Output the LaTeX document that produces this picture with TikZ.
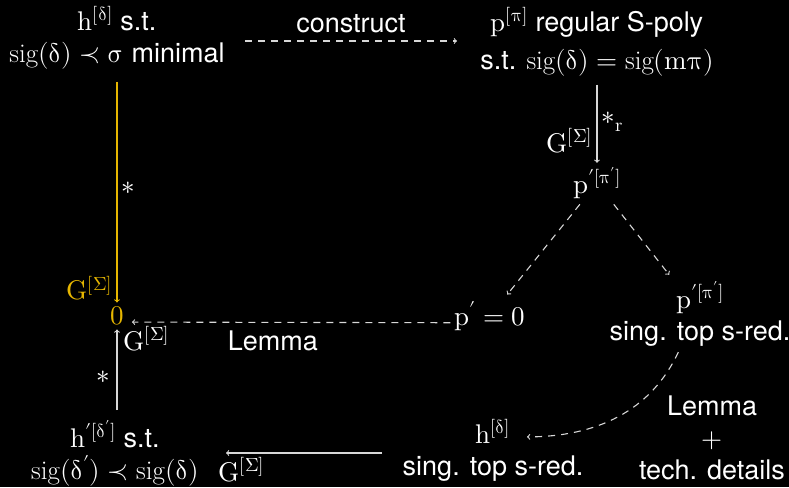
\documentclass[tikz,border=0pt]{standalone}
\usepackage{fontspec}
\usepackage[math-style=upright]{unicode-math}
\setmainfont{TeX Gyre Heros}
\setmathfont{Latin Modern Math}
\setmathrm{Latin Modern Roman}
\definecolor{gold}{RGB}{230,182,0}
\definecolor{linegray}{RGB}{215,215,215}
\newcommand{\sg}{\operatorname{sig}}
\begin{document}
\begin{tikzpicture}[x=1pt,y=-1pt,
  font=\fontsize{27}{32}\selectfont,
  every node/.style={text=white, inner sep=2pt},
  txt/.style={align=center},
  conn/.style={draw=linegray, line width=1.1pt, ->},
  dconn/.style={conn, dash pattern=on 7pt off 6pt},
  gconn/.style={draw=gold, line width=1.1pt, ->},
  lbl/.style={inner sep=3pt}]
\fill[black] (0,0) rectangle (789,487);
\useasboundingbox (0,0) rectangle (789,487);

\node[txt] (n1) at (117,38) {$h^{[\delta]}$ s.t.\\ $\sg(\delta)\prec\sigma$ minimal};
\node[txt] (n2) at (597,42) {$p^{[\pi]}$ regular S-poly\\[6pt] s.t. $\sg(\delta)=\sg(m\pi)$};
\node (n3) at (597,183) {$p'^{[\pi']}$};
\node (n4) at (490,316) {$p'=0$};
\node[txt] (n5) at (700,314) {$p'^{[\pi']}$\\ sing. top s-red.};
\node (zero) at (117,316) {\textcolor{gold}{$0$}};
\node[txt] (n6) at (115,453) {$h'^{[\delta']}$ s.t.\\ $\sg(\delta')\prec\sg(\delta)$};
\node[txt] (n7) at (493,450) {$h^{[\delta]}$\\ sing. top s-red.};
\node[txt] (lt) at (712,438) {Lemma\\ $+$\\ tech. details};

\coordinate (c1s) at (245,41);
\coordinate (c1e) at (457,41);
\draw[dconn] (c1s) -- node[above=6pt] {construct} (c1e);

\draw[conn, shorten <=6pt, shorten >=2pt] (n2) -- node[left=2pt, pos=0.72] {$G^{[\Sigma]}$} node[right=2pt, pos=0.5] {$\ast_{r}$} (n3);
\draw[dconn, shorten <=4pt, shorten >=6pt] (n3) -- (n4);
\draw[dconn, shorten <=4pt, shorten >=6pt] (n3) -- (n5);
\draw[dconn, shorten <=2pt, shorten >=6pt] (n4.mid west) -- node[below=6pt, pos=0.55] {Lemma} (zero.mid east);
\draw[gconn, shorten <=10pt, shorten >=2pt] (n1) -- node[right=2pt, pos=0.5] {$\ast$} node[left=2pt, pos=0.93] {\textcolor{gold}{$G^{[\Sigma]}$}} (zero);
\draw[conn, shorten <=8pt, shorten >=2pt] (zero.south |- n6.north) -- node[right=4pt, pos=0.88] {$G^{[\Sigma]}$} node[left=4pt, pos=0.45] {$\ast$} (zero);
\coordinate (c7s) at (382,453);
\coordinate (c7e) at (226,453);
\draw[conn] (c7s) -- node[below=2pt, pos=0.9] {$G^{[\Sigma]}$} (c7e);
\draw[dconn, shorten <=4pt] ([xshift=-20pt]n5.south) to[out=-115, in=0] ([xshift=34pt,yshift=-20pt]n7.north);
\end{tikzpicture}
\end{document}
